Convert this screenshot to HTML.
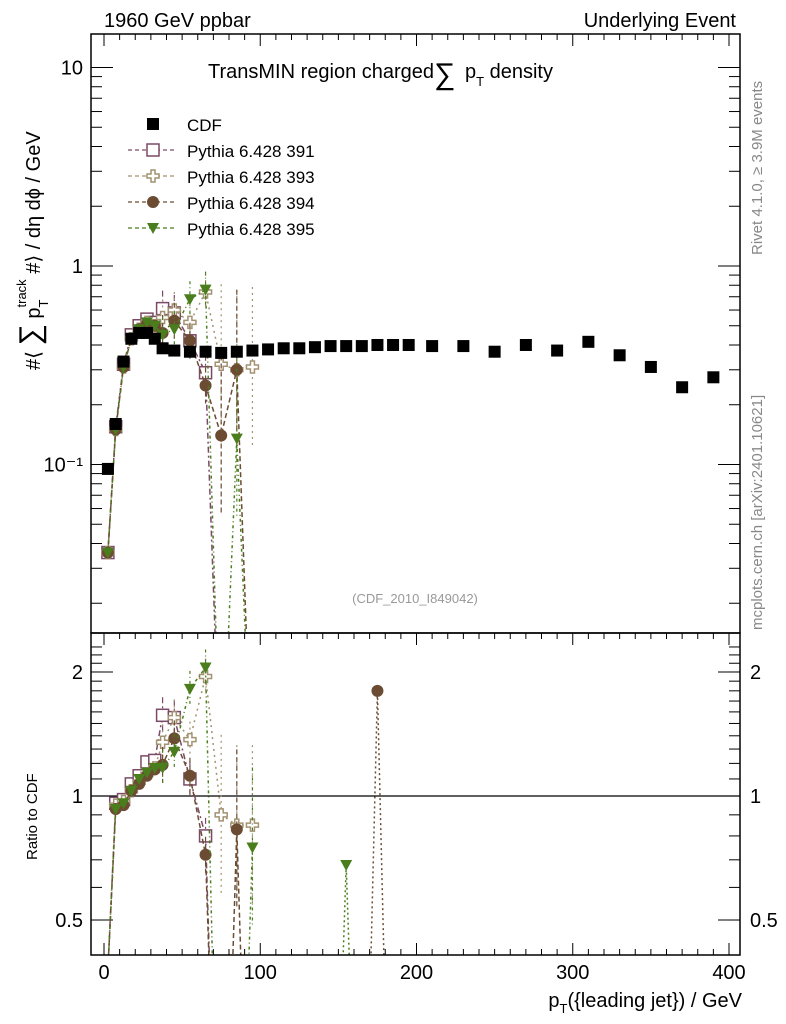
<!DOCTYPE html>
<html><head><meta charset="utf-8"><style>
html,body{margin:0;background:#fff;width:786px;height:1024px;overflow:hidden;}
svg{display:block;font-family:"Liberation Sans",sans-serif;}
</style></head><body>
<svg id="c" width="786" height="1024" xmlns="http://www.w3.org/2000/svg">
<defs>
<clipPath id="cm"><rect x="91" y="34" width="649" height="599"/></clipPath>
<clipPath id="cr"><rect x="91" y="633" width="649" height="322"/></clipPath>
</defs>
<g id="axes"></g>
<g id="main" clip-path="url(#cm)"></g>
<g id="ratio" clip-path="url(#cr)"></g>
<rect x="91" y="34" width="649" height="599" fill="none" stroke="#000" stroke-width="1.5"/>
<rect x="91" y="633" width="649" height="322" fill="none" stroke="#000" stroke-width="1.5"/>
<text x="104" y="27" font-size="20">1960 GeV ppbar</text>
<text x="736" y="27" font-size="20" text-anchor="end">Underlying Event</text>
<text x="208" y="78" font-size="20">TransMIN region charged<tspan font-size="30" dy="6">∑</tspan><tspan dx="4" dy="-6"> p</tspan><tspan font-size="13" dy="8">T</tspan><tspan dy="-8"> density</tspan></text>
<text x="415" y="603" font-size="13" fill="#999" text-anchor="middle">(CDF_2010_I849042)</text>
<text transform="translate(762,255) rotate(-90)" font-size="15" fill="#888">Rivet 4.1.0, ≥ 3.9M events</text>
<text transform="translate(762,630) rotate(-90)" font-size="15" fill="#888">mcplots.cern.ch [arXiv:2401.10621]</text>
<text transform="translate(40,370) rotate(-90)" font-size="20">#⟨ <tspan font-size="30">∑</tspan> p<tspan font-size="13" dy="8">T</tspan><tspan font-size="13" dx="-8" dy="-22">track</tspan><tspan dy="14"> #⟩ / dη dϕ / GeV</tspan></text>
<text transform="translate(37,860) rotate(-90)" font-size="15">Ratio to CDF</text>
<text x="742" y="1007" font-size="20" text-anchor="end">p<tspan font-size="13" dy="6">T</tspan><tspan dy="-6">({leading jet}) / GeV</tspan></text>
<g id="legend"></g>
</svg>
<script>
const xs=[2.5,7.5,12.5,17.5,22.5,27.5,32.5,37.5,45,55,65,75,85,95,105,115,125,135,145,155,165,175,185,195,210,230,250,270,290,310,330,350,370,390];
const cdf=[0.095,0.16,0.33,0.43,0.46,0.46,0.43,0.385,0.375,0.37,0.37,0.365,0.37,0.375,0.38,0.385,0.385,0.39,0.395,0.395,0.395,0.40,0.40,0.40,0.395,0.395,0.37,0.40,0.375,0.415,0.355,0.31,0.245,0.275];
const mcX=[2.5,7.5,12.5,17.5,22.5,27.5,32.5,37.5,45,55,65,75,85,95];
const p391=[0.036,0.155,0.32,0.45,0.50,0.54,0.52,0.61,0.58,0.42,0.29,0.002,null,null];
const p393=[0.036,0.15,0.31,0.43,0.48,0.52,0.50,0.55,0.60,0.52,0.74,0.32,0.30,0.31];
const p394=[0.036,0.15,0.31,0.43,0.48,0.51,0.50,0.46,0.53,0.42,0.25,0.14,0.30,0.002];
const p395=[0.036,0.15,0.31,0.43,0.48,0.52,0.50,0.45,0.48,0.68,0.76,0.002,0.135,0.002];
const r391=[0.38,0.96,0.98,1.07,1.12,1.21,1.22,1.57,1.55,1.10,0.80,0.05,null,null];
const r393=[0.38,0.95,0.97,1.03,1.08,1.13,1.17,1.35,1.55,1.37,1.95,0.90,0.85,0.85];
const r394=[0.38,0.93,0.95,1.03,1.07,1.12,1.16,1.19,1.38,1.12,0.72,0.05,0.83,0.05];
const r395=[0.38,0.93,0.96,1.03,1.10,1.14,1.17,1.17,1.28,1.82,2.05,0.05,0.05,0.75];
const r2X=[145,155,165,175,185];
const r2_394=[0.05,0.05,0.05,1.8,0.05];
const r2_395=[0.05,0.68,0.05,null,null];
const mainTicks=[0.1,1,10];
const mainTickLabels=["10\u207B\u00B9","1","10"];
const ratioTicks=[0.5,1,2];
const xTicks=[0,100,200,300,400];

const NS="http://www.w3.org/2000/svg";
const X=v=>104+v*1.5625;
const Ym=v=>266-198.5*Math.log10(v);
const Yr=v=>796-412*Math.log10(v);
function el(t,a,p){const e=document.createElementNS(NS,t);for(const k in a)e.setAttribute(k,a[k]);document.getElementById(p).appendChild(e);return e;}

for(let i=0;i<xTicks.length;i++){const v=xTicks[i];
 const t=el('text',{x:X(v),y:979,'font-size':20,'text-anchor':'middle'},'axes');t.textContent=v;
 
 
 el('line',{x1:X(v),x2:X(v),y1:34,y2:46,stroke:'#000'},'axes');
 el('line',{x1:X(v),x2:X(v),y1:633,y2:645,stroke:'#000'},'axes');
 el('line',{x1:X(v),x2:X(v),y1:955,y2:943,stroke:'#000'},'axes');
}
for(let v=-10;v<=410;v+=10){if(v%100===0)continue;const x=X(v);if(x<91||x>740)continue;
 el('line',{x1:x,x2:x,y1:34,y2:40,stroke:'#000'},'axes');
 el('line',{x1:x,x2:x,y1:955,y2:949,stroke:'#000'},'axes');
 el('line',{x1:x,x2:x,y1:633,y2:639,stroke:'#000'},'axes');}
for(let i=0;i<mainTicks.length;i++){const y=Ym(mainTicks[i]);
 el('line',{x1:91,x2:113,y1:y,y2:y,stroke:'#000'},'axes');
 el('line',{x1:740,x2:718,y1:y,y2:y,stroke:'#000'},'axes');
 const t=el('text',{x:83,y:y+7,'font-size':20,'text-anchor':'end'},'axes');t.textContent=mainTickLabels[i];
 
 }
for(let d=-2;d<=1;d++)for(let m=2;m<=9;m++){const y=Ym(m*Math.pow(10,d));if(y<34||y>633)continue;
 el('line',{x1:91,x2:102,y1:y,y2:y,stroke:'#000'},'axes');el('line',{x1:740,x2:729,y1:y,y2:y,stroke:'#000'},'axes');}
for(const v of ratioTicks){const y=Yr(v);
 el('line',{x1:91,x2:113,y1:y,y2:y,stroke:'#000'},'axes');el('line',{x1:740,x2:718,y1:y,y2:y,stroke:'#000'},'axes');
 const t=el('text',{x:83,y:y+7,'font-size':20,'text-anchor':'end'},'axes');t.textContent=v;
 
 
 const t2=el('text',{x:750,y:y+7,'font-size':20},'axes');t2.textContent=v;
 
 }
for(let v=0.4;v<2.4;v+=0.1){const y=Yr(v);if(y<633||y>955)continue;
 el('line',{x1:91,x2:102,y1:y,y2:y,stroke:'#000'},'axes');el('line',{x1:740,x2:729,y1:y,y2:y,stroke:'#000'},'axes');}
const ul=el('line',{x1:91,x2:740,y1:Yr(1),y2:Yr(1),stroke:'#000','stroke-width':1.2},'ratio');



function marker(g,kind,col,x,y,name){
 let e;
 if(kind==='sq')e=el('rect',{x:x-6,y:y-6,width:12,height:12,fill:'#fff',stroke:col,'stroke-width':1.5},g);
 else if(kind==='cr')e=el('path',{d:`M${x-2},${y-6}h4v4h4v4h-4v4h-4v-4h-4v-4h4z`,fill:'#fff',stroke:col,'stroke-width':1.5},g);
 else if(kind==='ci')e=el('circle',{cx:x,cy:y,r:6,fill:col},g);
 else if(kind==='tr')e=el('path',{d:`M${x-6},${y-5}h12l-6,11z`,fill:col},g);
 else e=el('rect',{x:x-6,y:y-6,width:12,height:12,fill:'#000'},g);
 
 
}
const series=[{v:p391,r:r391,k:'sq',c:'#7b4a66',d:'6,3,2,3',n:'pythia-391'},
 {v:p393,r:r393,k:'cr',c:'#a39272',d:'2,4',n:'pythia-393'},
 {v:p394,r:r394,k:'ci',c:'#6b4c33',d:'5,3',n:'pythia-394'},
 {v:p395,r:r395,k:'tr',c:'#4a7d1c',d:'3,3,1,3',n:'pythia-395'}];
for(const s of series){
 for(const [arr,Y,g,xa] of [[s.v,Ym,'main',mcX],[s.r,Yr,'ratio',mcX]]){
  let pts=[];for(let i=0;i<xa.length;i++)if(arr[i]!=null)pts.push(X(xa[i])+','+Y(arr[i]));
  const pl=el('polyline',{points:pts.join(' '),fill:'none',stroke:s.c,'stroke-width':1.5,'stroke-dasharray':s.d},g);
  
  
  for(let i=0;i<xa.length;i++)if(arr[i]!=null){
   if(i>=7){const y=Y(arr[i]);const h=(i>=11?80:18);el('line',{x1:X(xa[i]),x2:X(xa[i]),y1:y-h,y2:y+h,stroke:s.c,'stroke-width':1.2,'stroke-dasharray':s.d},g);}
   marker(g,s.k,s.c,X(xa[i]),Y(arr[i]),s.n+'-point');}
 }
}
for(const [arr,s] of [[r2_394,series[2]],[r2_395,series[3]]]){
 let pts=[];for(let i=0;i<r2X.length;i++)if(arr[i]!=null)pts.push(X(r2X[i])+','+Yr(arr[i]));
 const pl=el('polyline',{points:pts.join(' '),fill:'none',stroke:s.c,'stroke-width':1.5,'stroke-dasharray':'2,3'},'ratio');
 
 
 for(let i=0;i<r2X.length;i++)if(arr[i]!=null&&arr[i]>0.4)marker('ratio',s.k,s.c,X(r2X[i]),Yr(arr[i]),s.n+'-point');
}
for(let i=0;i<xs.length;i++)marker('main','cdf','#000',X(xs[i]),Ym(cdf[i]),'cdf-point');

const labs=['CDF','Pythia 6.428 391','Pythia 6.428 393','Pythia 6.428 394','Pythia 6.428 395'];
for(let i=0;i<5;i++){const y=124+i*26;
 const t=el('text',{x:187,y:y+7,'font-size':17},'legend');t.textContent=labs[i];
 
 
 if(i===0)marker('legend','cdf','#000',153,y,'legend-marker');
 else{const s=series[i-1];el('line',{x1:128,x2:174,y1:y,y2:y,stroke:s.c,'stroke-width':1.3,'stroke-dasharray':'4,3'},'legend');
  marker('legend',s.k,s.c,153,y,'legend-marker');}
}
</script>
</body></html>
